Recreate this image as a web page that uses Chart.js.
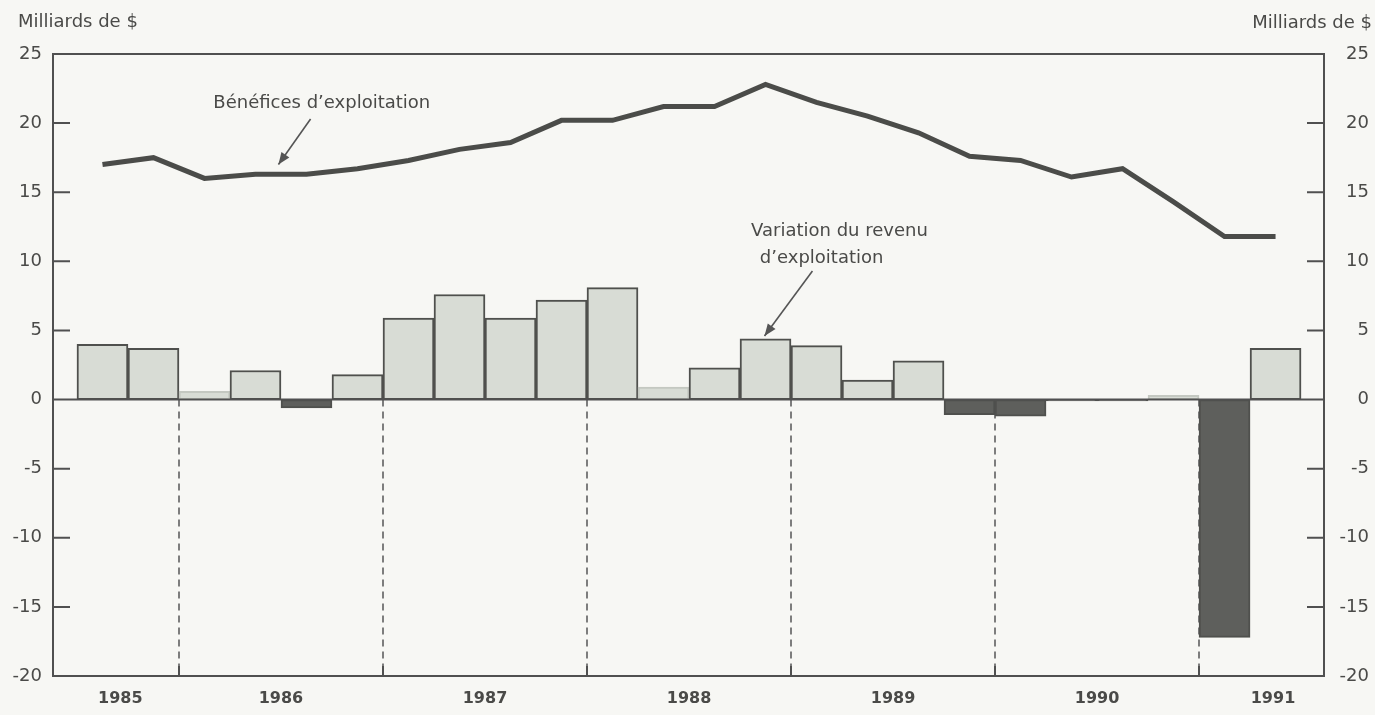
<!DOCTYPE html>
<html>
<head>
<meta charset="utf-8">
<script src="https://cdn.jsdelivr.net/npm/chart.js@4"></script>
<style>
  body { margin: 0; background: #f7f7f4; }
  #wrap { width: 1375px; height: 715px; }
</style>
</head>
<body>
<div id="wrap"><canvas id="myChart"></canvas></div>
<script>
// quarterly data, 1985 T3 to 1991 T2
const quarters = [
  "1985 T3", "1985 T4",
  "1986 T1", "1986 T2", "1986 T3", "1986 T4",
  "1987 T1", "1987 T2", "1987 T3", "1987 T4",
  "1988 T1", "1988 T2", "1988 T3", "1988 T4",
  "1989 T1", "1989 T2", "1989 T3", "1989 T4",
  "1990 T1", "1990 T2", "1990 T3", "1990 T4",
  "1991 T1", "1991 T2",
];

// Variation du revenu d'exploitation (milliards de $)
const variation = [
  4.0, 3.7,
  0.6, 2.1, -0.6, 1.8,
  5.9, 7.6, 5.9, 7.2,
  8.1, 0.9, 2.3, 4.4,
  3.9, 1.4, 2.8, -1.1,
  -1.2, -0.1, -0.1, 0.3,
  -17.2, 3.7,
];

// Bénéfices d'exploitation (milliards de $)
const benefices = [
  17.0, 17.5,
  16.0, 16.3, 16.3, 16.7,
  17.3, 18.1, 18.6, 20.2,
  20.2, 21.2, 21.2, 22.8,
  21.5, 20.5, 19.3, 17.6,
  17.3, 16.1, 16.7, 14.3,
  11.8, 11.8,
];

const yTicks = [25, 20, 15, 10, 5, 0, -5, -10, -15, -20];

const years = [...new Set(quarters.map((q) => q.slice(0, 4)))];
const yearCenters = years.map((yr) => {
  const idx = quarters.map((q, i) => (q.startsWith(yr) ? i : -1)).filter((i) => i >= 0);
  return idx.reduce((a, b) => a + b, 0) / idx.length;
});
const yearBounds = [];
quarters.forEach((q, i) => {
  if (i > 0 && q.slice(0, 4) !== quarters[i - 1].slice(0, 4)) yearBounds.push(i - 0.5);
});

const FONT = "'DejaVu Sans', Arial, sans-serif";
const INK = "#4a4a48";

function barFill(v) {
  if (v < 0) return "#5e5f5c";
  return "#d8dcd5";
}
function barBorder(v) {
  if (v < 0) return "#4f504d";
  if (v < 1) return "#c4c8c1";
  return "#4f504d";
}

function arrow(ctx, x1, y1, x2, y2) {
  ctx.beginPath();
  ctx.moveTo(x1, y1);
  ctx.lineTo(x2, y2);
  ctx.stroke();
  const a = Math.atan2(y2 - y1, x2 - x1);
  const L = 13, W = 0.38;
  ctx.beginPath();
  ctx.moveTo(x2, y2);
  ctx.lineTo(x2 - L * Math.cos(a - W), y2 - L * Math.sin(a - W));
  ctx.lineTo(x2 - L * Math.cos(a + W), y2 - L * Math.sin(a + W));
  ctx.closePath();
  ctx.fill();
}

const frame = {
  id: "frame",
  beforeDraw(chart) {
    const { ctx } = chart;
    ctx.save();
    ctx.fillStyle = "#f7f7f4";
    ctx.fillRect(0, 0, chart.width, chart.height);
    ctx.restore();
  },
  beforeDatasetsDraw(chart) {
    const { ctx, chartArea: a, scales: { x, y } } = chart;
    const y0 = y.getPixelForValue(0);
    ctx.save();
    ctx.strokeStyle = "#555";
    ctx.lineWidth = 1.5;
    ctx.setLineDash([7, 5]);
    yearBounds.forEach((b) => {
      const px = Math.round(x.getPixelForValue(b));
      ctx.beginPath();
      ctx.moveTo(px, y0);
      ctx.lineTo(px, a.bottom);
      ctx.stroke();
    });
    ctx.restore();
  },
  afterDatasetsDraw(chart) {
    const { ctx, chartArea: a, scales: { x, y } } = chart;
    ctx.save();
    ctx.strokeStyle = "#505050";
    ctx.lineWidth = 2;

    // zero line
    const y0 = y.getPixelForValue(0);
    ctx.beginPath();
    ctx.moveTo(a.left, y0);
    ctx.lineTo(a.right, y0);
    ctx.stroke();

    // frame
    ctx.strokeRect(a.left, a.top, a.right - a.left, a.bottom - a.top);

    // inner ticks on both sides
    yTicks.forEach((v) => {
      if (v === 25 || v === 0 || v === -20) return;
      const py = y.getPixelForValue(v);
      ctx.beginPath();
      ctx.moveTo(a.left, py);
      ctx.lineTo(a.left + 17, py);
      ctx.moveTo(a.right, py);
      ctx.lineTo(a.right - 17, py);
      ctx.stroke();
    });

    // year boundary ticks on bottom axis
    yearBounds.forEach((b) => {
      const px = Math.round(x.getPixelForValue(b));
      ctx.beginPath();
      ctx.moveTo(px, a.bottom);
      ctx.lineTo(px, a.bottom - 10);
      ctx.stroke();
    });

    // unit labels
    ctx.fillStyle = INK;
    ctx.font = "18px " + FONT;
    ctx.textBaseline = "middle";
    ctx.textAlign = "left";
    ctx.fillText("Milliards de $", 18, 22);
    ctx.textAlign = "right";
    ctx.fillText("Milliards de $", 1372, 23);

    // annotations
    ctx.textAlign = "center";
    ctx.fillText("Bénéfices d’exploitation", x.getPixelForValue(4.3), y.getPixelForValue(21.45));
    ctx.fillText("Variation du revenu", x.getPixelForValue(14.45), y.getPixelForValue(12.2));
    ctx.fillText("d’exploitation", x.getPixelForValue(14.1), y.getPixelForValue(10.25));

    ctx.strokeStyle = "#555";
    ctx.fillStyle = "#555";
    ctx.lineWidth = 1.6;
    arrow(ctx, x.getPixelForValue(4.08), y.getPixelForValue(20.3),
               x.getPixelForValue(3.45), y.getPixelForValue(17.0));
    arrow(ctx, x.getPixelForValue(13.92), y.getPixelForValue(9.3),
               x.getPixelForValue(12.98), y.getPixelForValue(4.6));
    ctx.restore();
  },
};

const ctxMain = document.getElementById("myChart").getContext("2d");

// small nudges for the partial years' labels, as placed in the original
const labelShift = { 1985: -0.15, 1991: 0.45 };

const myChart = new Chart(ctxMain, {
  type: "bar",
  data: {
    datasets: [
      {
        type: "line",
        label: "Bénéfices d'exploitation",
        data: benefices.map((v, i) => ({ x: i, y: v })),
        borderColor: "#4b4c49",
        borderWidth: 5,
        pointRadius: 0,
        tension: 0,
        fill: false,
        order: 0,
      },
      {
        label: "Variation du revenu d'exploitation",
        data: variation.map((v, i) => ({ x: i, y: v })),
        backgroundColor: variation.map(barFill),
        borderColor: variation.map(barBorder),
        borderWidth: 2,
        borderSkipped: false,
        barPercentage: 1,
        categoryPercentage: 1,
        order: 1,
      },
    ],
  },
  options: {
    responsive: true,
    maintainAspectRatio: false,
    animation: false,
    layout: { padding: { top: 54, left: 0, right: 6, bottom: 0 } },
    plugins: {
      legend: { display: false },
      tooltip: { enabled: false },
    },
    scales: {
      x: {
        type: "linear",
        offset: false,
        min: -0.97,
        max: 23.95,
        grid: { display: false, drawTicks: false, offset: false },
        border: { display: false },
        afterBuildTicks: (scale) => {
          scale.ticks = yearCenters.map((v, i) => ({ value: v + (labelShift[years[i]] || 0) }));
        },
        afterFit: (scale) => {
          scale.height = 39;
        },
        ticks: {
          autoSkip: false,
          maxRotation: 0,
          padding: 13,
          color: INK,
          font: { family: FONT, size: 16, weight: "bold" },
          callback: (v, i) => years[i],
        },
      },
      y: {
        position: "left",
        min: -20,
        max: 25,
        grid: { display: false, drawTicks: false },
        border: { display: false },
        afterFit: (scale) => {
          scale.width = 53;
        },
        ticks: {
          stepSize: 5,
          padding: 11,
          color: INK,
          font: { family: FONT, size: 18 },
        },
      },
      y2: {
        position: "right",
        min: -20,
        max: 25,
        grid: { display: false, drawTicks: false },
        border: { display: false },
        afterFit: (scale) => {
          scale.width = 45;
        },
        ticks: {
          stepSize: 5,
          padding: 9,
          crossAlign: "far",
          color: INK,
          font: { family: FONT, size: 18 },
        },
      },
    },
  },
  plugins: [frame],
});
</script>
</body>
</html>
